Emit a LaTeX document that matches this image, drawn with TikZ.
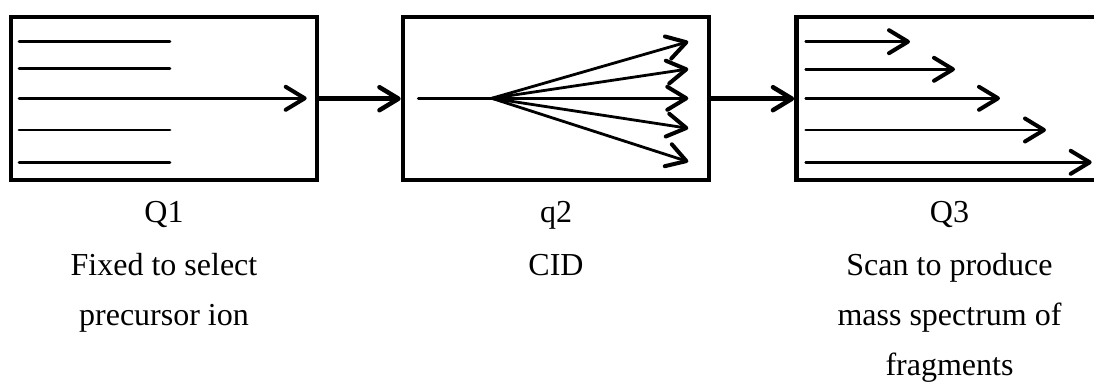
\documentclass[tikz,border=0pt]{standalone}
\usepackage{fontspec}
\setmainfont{Liberation Serif}
\usetikzlibrary{positioning,arrows.meta}

\begin{document}
\begin{tikzpicture}[
  x=1pt, y=-1pt,
  quad/.style={draw, line width=4.6pt, minimum width=306pt, minimum height=163pt, inner sep=0pt},
  ion/.style={line width=2.8pt, line cap=round},
  ionarr/.style={ion, -{Straight Barb[length=19pt,width=23pt,line width=4pt,line cap=round,line join=round]}},
  link/.style={line width=5.5pt, -{Straight Barb[length=19pt,width=23pt,line width=4.5pt,line cap=round,line join=round]}},
  lbl/.style={font=\fontsize{32}{50}\selectfont, align=center, anchor=north, inner sep=0pt},
]
\useasboundingbox (0,0) rectangle (1094,390);
\clip (0,0) rectangle (1094,390);

% ---------- Quadrupoles ----------
\node[quad] (q1) at (164,98.7) {};
\node[quad] (q2) at (556,98.7) {};
\node[quad] (q3) at (949.5,98.7) {};

% ---------- Q1: only the precursor passes ----------
\foreach \y in {41.7,68.3,130,162.3}
  \draw[ion] (19,\y) -- (170,\y);
\draw[ionarr] (19,98.3) -- (306.7,98.3);

% ---------- q2: collision cell ----------
\coordinate (split) at (491.7,98.3);
\draw[ion] (418.3,98.3) -- (split);
\foreach \y in {41.7,69,98.3,128.3,161.7}
  \draw[ionarr] (split) -- (688.3,\y);

% ---------- Q3: scanned fragments ----------
\foreach \y/\xe in {41.7/910,69.3/955,98.3/1000,130/1046,162.3/1091.7}
  \draw[ionarr] (805.7,\y) -- (\xe,\y);

% ---------- Links ----------
\draw[link] (q1) -- (q2);
\draw[link] (q2) -- (q3);

% ---------- Labels ----------
\node[lbl] (t1) at ([yshift=-19pt]q1.south) {Q1\\[3pt]Fixed to select\\precursor ion};
\node[lbl] (t2) at ([yshift=-19pt]q2.south) {q2\\[3pt]CID};
\node[lbl] (t3) at ([yshift=-19pt]q3.south) {Q3\\[3pt]Scan to produce\\mass spectrum of\\fragments};
\end{tikzpicture}
\end{document}
